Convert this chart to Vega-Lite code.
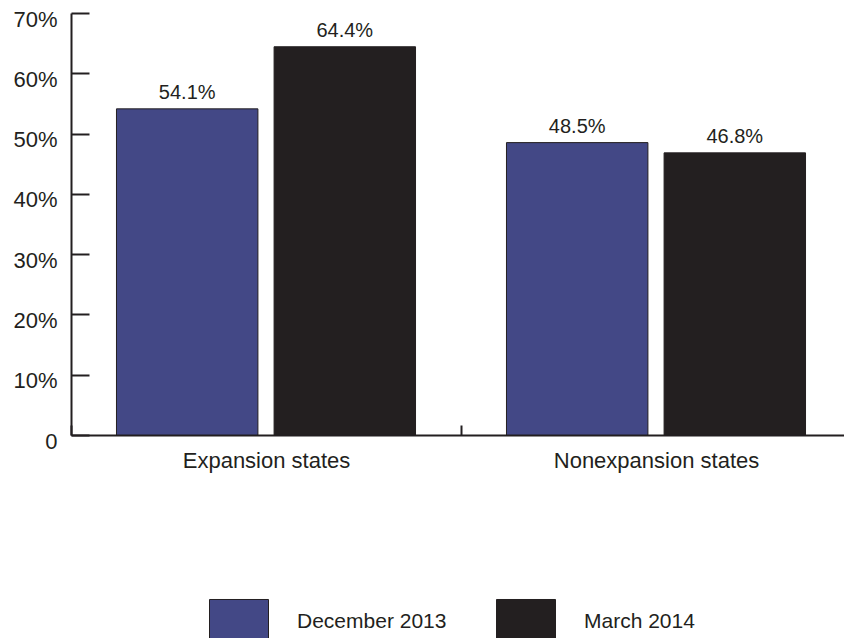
{
  "$schema": "https://vega.github.io/schema/vega-lite/v6.json",
  "width": 780,
  "height": 422,
  "autosize": {"type": "none"},
  "padding": {"left": 71, "top": 13, "right": 0, "bottom": 203},
  "background": "white",
  "config": {"view": {"stroke": null}, "font": "Liberation Sans"},
  "data": {"values": [
    {"group": "Expansion states", "period": "December 2013", "value": 0.541},
    {"group": "Expansion states", "period": "March 2014", "value": 0.644},
    {"group": "Nonexpansion states", "period": "December 2013", "value": 0.485},
    {"group": "Nonexpansion states", "period": "March 2014", "value": 0.468}
  ]},
  "encoding": {
    "x": {"field": "group", "type": "nominal", "sort": null,
      "scale": {"paddingInner": 0, "paddingOuter": 0},
      "axis": {"title": null, "labelAngle": 0, "tickBand": "extent", "tickSize": -10, "tickWidth": 2, "tickColor": "#231f20",
        "domainColor": "#231f20", "domainWidth": 2, "labelFont": "Liberation Sans", "labelFontSize": 22, "labelColor": "#231f20",
        "labelBaseline": "top", "labelPadding": 25, "labelLimit": 0}},
    "xOffset": {"field": "period", "type": "nominal", "sort": null,
      "scale": {"paddingInner": 0.1026, "paddingOuter": 0.2885}},
    "y": {"field": "value", "type": "quantitative",
      "scale": {"domain": [0, 0.7], "nice": false, "zero": true},
      "axis": {"title": null, "grid": false, "values": [0, 0.1, 0.2, 0.3, 0.4, 0.5, 0.6, 0.7],
        "labelExpr": "datum.value == 0 ? '0' : format(datum.value, '.0%')",
        "tickSize": -18, "tickWidth": 2, "tickColor": "#231f20", "domainColor": "#231f20", "domainWidth": 2,
        "labelFont": "Liberation Sans", "labelFontSize": 22, "labelColor": "#231f20", "labelBaseline": "middle",
        "labelOffset": 6, "labelPadding": 32}}
  },
  "layer": [
    {"mark": {"type": "bar", "stroke": "#231f20", "strokeWidth": 1},
      "encoding": {"color": {"field": "period", "type": "nominal", "sort": null,
        "scale": {"domain": ["December 2013", "March 2014"], "range": ["#434886", "#231f20"]},
        "legend": {"title": null, "orient": "none", "legendX": 138, "legendY": 579, "direction": "horizontal",
          "symbolType": "M-1,-0.78H1V0.78H-1Z", "symbolSize": 3481, "symbolStrokeColor": "#231f20", "symbolStrokeWidth": 1,
          "symbolOpacity": 1, "labelFont": "Liberation Sans", "labelFontSize": 21, "labelColor": "#231f20",
          "labelOffset": 28, "columnPadding": 47, "padding": 0}}}},
    {"mark": {"type": "text", "dy": -10, "baseline": "alphabetic", "fontSize": 20, "color": "#231f20", "font": "Liberation Sans"},
      "encoding": {"text": {"field": "value", "type": "quantitative", "format": ".1%"}}}
  ]
}
